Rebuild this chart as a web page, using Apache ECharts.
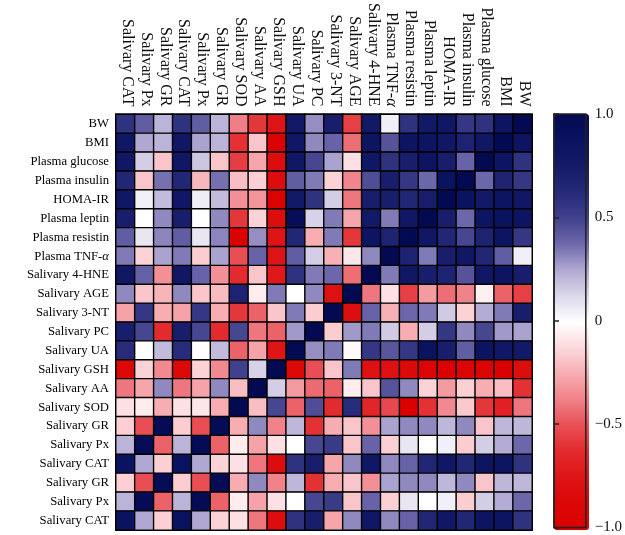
<!DOCTYPE html>
<html><head><meta charset="utf-8">
<style>html,body{margin:0;padding:0;background:#fff}#c{width:625px;height:535px}</style>
<script src="https://cdn.jsdelivr.net/npm/echarts@6/dist/echarts.min.js"></script></head>
<body><div id="c"></div>
<script>
const columnLabels = ["Salivary CAT","Salivary Px","Salivary GR","Salivary CAT","Salivary Px","Salivary GR","Salivary SOD","Salivary AA","Salivary GSH","Salivary UA","Salivary PC","Salivary 3-NT","Salivary AGE","Salivary 4-HNE","Plasma TNF-α","Plasma resistin","Plasma leptin","HOMA-IR","Plasma insulin","Plasma glucose","BMI","BW"];
const rowLabels = ["BW","BMI","Plasma glucose","Plasma insulin","HOMA-IR","Plasma leptin","Plasma resistin","Plasma TNF-α","Salivary 4-HNE","Salivary AGE","Salivary 3-NT","Salivary PC","Salivary UA","Salivary GSH","Salivary AA","Salivary SOD","Salivary GR","Salivary Px","Salivary CAT","Salivary GR","Salivary Px","Salivary CAT"];
const colorbarTicks = [-1, -0.5, 0, 0.5, 1];
const rBW  = [.58,.41,.22,.58,.41,.22,-.38,-.58,-.75,.77,.3,.72,-.55,.77,.05,.58,.77,.8,.55,.58,.84,1];
const rBMI = [.8,.25,.22,.8,.26,.22,-.6,-.18,-.95,.8,.31,.39,-.42,.84,.44,.84,.84,.8,.68,.8,1,.84];
const rGlu = [.8,.15,-.18,.8,.17,-.18,-.56,-.27,-.82,.8,.48,.26,-.1,.8,.58,.72,.84,.72,.39,1,.84,.58];
const rIns = [.65,-.18,.36,.65,-.22,.36,-.2,-.15,-.82,.41,.34,-.14,-.36,.46,.72,.55,.38,.88,1,.38,.68,.55];
const rHOMA= [.8,.05,.2,.8,.06,.2,-.33,-.32,-.95,.77,.58,.15,-.4,.72,.72,.65,.72,1,.88,.77,.84,.8];
const rLep = [.72,0,.31,.72,0,.31,-.58,-.14,-.82,.95,.14,.34,-.27,.77,.34,.8,1,.72,.38,.84,.88,.84];
const rRes = [.41,.08,.32,.41,.08,.32,-.97,.3,-.75,.65,-.25,.34,-.58,.84,.68,1,.8,.65,.48,.68,.84,.55];
const rTNF = [.34,-.14,.26,.34,-.16,.26,-.5,.39,-.75,.41,.15,-.24,-.08,.31,1,.68,.34,.72,.8,.65,.41,.05];
const rHNE = [.8,.4,-.33,.8,.39,-.33,-.62,-.18,-.72,.58,.34,.38,-.42,1,.34,.8,.72,.68,.44,.8,.84,.72];
const rAGE = [.31,-.18,-.23,.31,-.18,-.21,.68,-.06,.34,0,.31,-.78,1,-.4,-.1,-.55,-.3,-.42,-.37,-.05,-.45,-.55];
const rNT  = [-.28,.55,-.25,-.28,.55,-.25,-.58,-.45,-.18,.34,-.16,1,-.8,.39,-.24,.38,.34,.16,-.14,.24,.34,.72];
const rPC  = [.72,.48,-.62,.72,.48,-.62,.48,-.4,-.45,.28,1,-.16,.28,.34,.16,-.25,.15,.55,.31,.48,.28,.26];
const rUA  = [.62,0,.2,.62,0,.2,-.45,-.28,-.75,1,.3,.34,-.02,.55,.43,.55,.88,.72,.41,.85,.8,.77];
const rGSH = [-.85,-.14,-.35,-.85,-.14,-.35,.5,.14,1,-.85,-.5,-.18,.34,-.78,-.78,-.85,-.9,-.97,-.9,-.93,-1,-.82];
const rAA  = [-.4,-.27,.31,-.4,-.28,.31,-.2,1,.15,-.3,-.43,-.45,-.06,-.18,.44,.31,-.14,-.3,-.15,-.25,-.2,-.6];
const rSOD = [-.1,-.06,-.25,-.1,-.08,-.25,1,-.2,.48,-.45,.46,-.62,.62,-.65,-.52,-.97,-.6,-.35,-.17,-.58,-.68,-.4];
const rGR2 = [-.15,-.5,.98,-.16,-.5,.98,-.25,.31,-.37,.21,-.6,-.25,-.18,-.33,.26,.31,.31,.21,.31,-.18,.21,.21];
const rPx2 = [.22,.98,-.45,.22,.98,-.45,-.06,-.28,-.1,0,.48,.53,-.18,.39,-.15,.08,0,.05,-.16,.15,.24,.38];
const rCAT2= [.88,.25,-.15,.88,.25,-.14,-.1,-.4,-.82,.58,.72,-.27,.31,.8,.31,.39,.65,.8,.65,.84,.84,.58];
const rGR1 = [-.15,-.5,.98,-.16,-.5,.98,-.25,.31,-.37,.21,-.6,-.25,-.18,-.33,.26,.31,.31,.21,.31,-.18,.21,.21];
const rPx1 = [.22,.98,-.45,.22,.98,-.45,-.06,-.28,-.1,0,.48,.53,-.18,.39,-.15,.08,0,.05,-.16,.15,.24,.38];
const rCAT1= [.88,.25,-.15,.88,.25,-.14,-.1,-.4,-.82,.58,.72,-.27,.31,.8,.31,.39,.65,.8,.65,.84,.84,.58];
const matrix = [rBW,rBMI,rGlu,rIns,rHOMA,rLep,rRes,rTNF,rHNE,rAGE,rNT,rPC,rUA,rGSH,rAA,rSOD,rGR2,rPx2,rCAT2,rGR1,rPx1,rCAT1];
const cells = [];
matrix.forEach((row, r) => row.forEach((v, c) => cells.push([c, r, v])));
const serif = '"Liberation Serif","Times New Roman",serif';
const fmt = s => s.replace('α', '{a|α}');
const chart = echarts.init(document.getElementById('c'), null, {renderer:'canvas'});
chart.setOption({
  animation:false,
  backgroundColor:'#fff',
  textStyle:{fontFamily:serif},
  grid:[
    {left:116,top:114,width:416,height:416,show:true,borderColor:'#000',borderWidth:2,backgroundColor:'#000',z:1},
    {left:554,top:114,width:35,height:416,show:true,borderColor:'#222',borderWidth:1.5,backgroundColor:'transparent',z:10}
  ],
  xAxis:[
    {type:'category',data:columnLabels,position:'top',gridIndex:0,
     axisLine:{show:false},axisTick:{show:false},splitLine:{show:false},
     axisLabel:{rotate:90,interval:0,margin:8,padding:[0,0,3,0],fontSize:16,color:'#111',fontFamily:serif,formatter:fmt,
       rich:{a:{fontStyle:'italic',fontSize:16,fontFamily:serif,color:'#111'}}}},
    {type:'value',gridIndex:1,min:0,max:1,show:false}
  ],
  yAxis:[
    {type:'category',data:rowLabels,inverse:true,gridIndex:0,
     axisLine:{show:false},axisTick:{show:false},splitLine:{show:false},
     axisLabel:{interval:0,margin:7,fontSize:12.7,color:'#000',fontFamily:serif,formatter:fmt,
       rich:{a:{fontStyle:'italic',fontSize:12.7,fontFamily:serif,color:'#000'}}}},
    {type:'value',gridIndex:1,min:-1,max:1,interval:0.5,position:'right',z:11,
     axisLine:{show:true,lineStyle:{color:'#222',width:1.5}},
     axisTick:{show:true,length:5,customValues:colorbarTicks,lineStyle:{color:'#222',width:1.5}},
     splitLine:{show:false},
     axisLabel:{margin:9,fontSize:15,color:'#111',fontFamily:serif,customValues:colorbarTicks,
       formatter:v=> v===0?'0':(v<0?'−':'')+Math.abs(v).toFixed(1)}}
  ],
  visualMap:{type:'continuous',min:-1,max:1,seriesIndex:0,calculable:false,
    left:554,top:114,itemWidth:35,itemHeight:416,padding:0,text:['',''],
    inRange:{color:['#db0000','#dc0606','#de1416','#e22a2c','#e84e54','#f08088','#f7adb2','#fcd8dc','#ffffff','#dcd8ea','#b0a8d2','#6e68ac','#40408c','#262a78','#141a68','#0a1360','#040a52']}},
  series:[
    {type:'heatmap',data:cells,xAxisIndex:0,yAxisIndex:0,
     itemStyle:{borderColor:'#000',borderWidth:1.4},emphasis:{disabled:true}}
  ]
});
</script></body></html>
